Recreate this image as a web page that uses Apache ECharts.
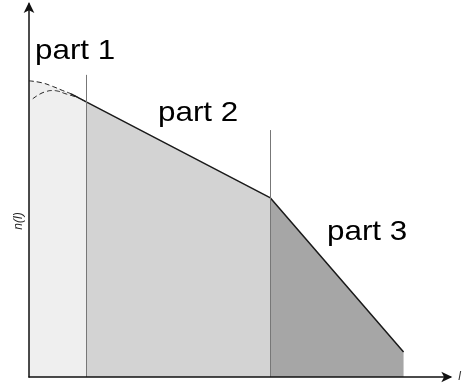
<!DOCTYPE html>
<html>
<head>
<meta charset="utf-8">
<script src="https://cdn.jsdelivr.net/npm/echarts@6/dist/echarts.min.js"></script>
<style>
html,body{margin:0;padding:0;background:#fff;}
#chart{width:464px;height:388px;}
</style>
</head>
<body>
<div id="chart"></div>
<script>
// boundaries between the three parts (l values)
var partBounds = [13.7, 57.3, 88.9];
// solid piecewise line n(l)
var solidLine = [[10, 75.9], [13.7, 73.7], [57.3, 48.0], [88.9, 6.7]];
// two dashed curves in part 1
var dashUpper = [[0, 79.4], [3, 78.9], [5.4, 78.0], [8, 76.8], [10, 75.9], [12, 74.7], [13.7, 73.7]];
var dashLower = [[0.9, 74.6], [2.5, 75.8], [4, 76.5], [5.5, 76.8], [7, 76.6], [8.5, 76.0], [10, 75.5], [11.5, 74.9]];
// filled areas
var part1Area = dashUpper;
var part2Area = [[13.7, 73.7], [57.3, 48.0]];
var part3Area = [[57.3, 48.0], [88.9, 6.7]];
// heights of the thin divider lines
var dividerTops = [81, 66.2];
var partLabels = ['part 1', 'part 2', 'part 3'];

var chart = echarts.init(document.getElementById('chart'));

var areaSeries = function(data, color){
    return {
        type: 'line',
        data: data,
        symbol: 'none',
        lineStyle: {opacity: 0},
        areaStyle: {color: color, opacity: 1},
        silent: true,
        z: 1
    };
};

var labelFont = '28px Liberation Sans';

var option = {
    backgroundColor: '#fff',
    animation: false,
    grid: {left: 29, right: 11, top: 4, bottom: 11},
    xAxis: {
        type: 'value',
        min: 0,
        max: 100,
        z: 5,
        name: 'l',
        nameGap: 8,
        nameTextStyle: {fontStyle: 'italic', fontSize: 12, color: '#333', fontFamily: 'Liberation Sans'},
        axisLine: {lineStyle: {color: '#111', width: 1.5}, symbol: ['none', 'arrow'], symbolSize: [8, 11], symbolOffset: [0, 2]},
        axisTick: {show: false},
        axisLabel: {show: false},
        splitLine: {show: false}
    },
    yAxis: {
        type: 'value',
        min: 0,
        max: 100,
        z: 5,
        axisLine: {lineStyle: {color: '#111', width: 1.5}, symbol: ['none', 'arrow'], symbolSize: [8, 11], symbolOffset: [0, 2]},
        axisTick: {show: false},
        axisLabel: {show: false},
        splitLine: {show: false}
    },
    graphic: [
        {type: 'text', left: 35, top: 37, scaleX: 1.12, style: {text: partLabels[0], font: labelFont, fill: '#000'}},
        {type: 'text', left: 158, top: 99, scaleX: 1.12, style: {text: partLabels[1], font: labelFont, fill: '#000'}},
        {type: 'text', left: 327, top: 218, scaleX: 1.12, style: {text: partLabels[2], font: labelFont, fill: '#000'}},
        {type: 'text', x: 19, y: 221, rotation: Math.PI / 2, style: {text: 'n(l)', font: 'italic 12px Liberation Sans', fill: '#222', textAlign: 'center', textVerticalAlign: 'middle'}}
    ],
    series: [
        areaSeries(part1Area, '#efefef'),
        areaSeries(part2Area, '#d3d3d3'),
        areaSeries(part3Area, '#a6a6a6'),
        {
            type: 'line',
            data: solidLine,
            symbol: 'none',
            lineStyle: {color: '#1a1a1a', width: 1.5},
            z: 3,
            markLine: {
                silent: true,
                symbol: 'none',
                label: {show: false},
                lineStyle: {color: '#777', width: 1, type: 'solid'},
                data: [
                    [{coord: [partBounds[0], 0]}, {coord: [partBounds[0], dividerTops[0]]}],
                    [{coord: [partBounds[1], 0]}, {coord: [partBounds[1], dividerTops[1]]}]
                ]
            }
        },
        {
            type: 'line',
            data: dashUpper,
            symbol: 'none',
            smooth: true,
            lineStyle: {color: '#222', width: 1, type: [5, 3]},
            z: 3
        },
        {
            type: 'line',
            data: dashLower,
            symbol: 'none',
            smooth: true,
            lineStyle: {color: '#222', width: 1, type: [5, 3]},
            z: 3
        }
    ]
};
chart.setOption(option);
</script>
</body>
</html>
